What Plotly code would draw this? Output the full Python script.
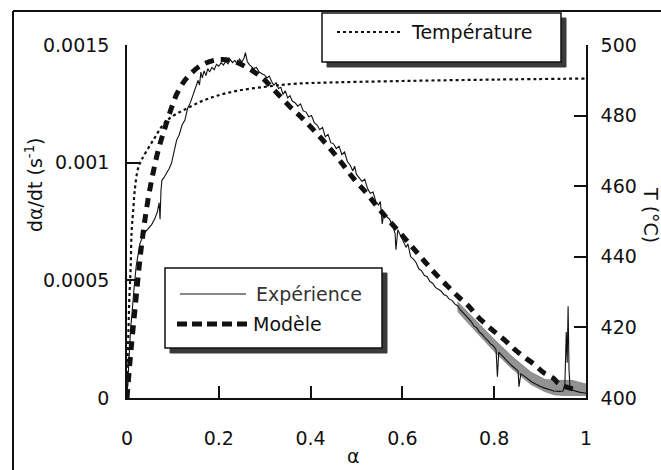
import plotly.graph_objects as go

# ---------------- data ----------------
# Experimental d(alpha)/dt (values in 1e-3 s^-1)
alpha_exp = [0.000, 0.002, 0.004, 0.006, 0.008, 0.010, 0.013, 0.016, 0.020, 0.024,
             0.028, 0.033, 0.038, 0.043, 0.048, 0.054, 0.060, 0.066, 0.070, 0.072,
             0.074, 0.076, 0.080, 0.086, 0.092, 0.097, 0.102, 0.108, 0.114, 0.120,
             0.126, 0.132, 0.138, 0.144, 0.150, 0.155, 0.158, 0.161, 0.164, 0.168,
             0.172, 0.176, 0.180, 0.185, 0.190, 0.195, 0.200, 0.205, 0.210, 0.215,
             0.220, 0.225, 0.230, 0.235, 0.240, 0.245, 0.250, 0.255, 0.258, 0.262,
             0.266, 0.270, 0.276, 0.282, 0.288, 0.294, 0.300, 0.305, 0.310, 0.315,
             0.320, 0.325, 0.330, 0.335, 0.340, 0.345, 0.350, 0.355, 0.360, 0.366,
             0.372, 0.378, 0.384, 0.390, 0.396, 0.402, 0.408, 0.414, 0.420, 0.426,
             0.432, 0.438, 0.444, 0.450, 0.456, 0.462, 0.468, 0.474, 0.480, 0.486,
             0.492, 0.496, 0.500, 0.506, 0.512, 0.518, 0.524, 0.530, 0.536, 0.542,
             0.548, 0.552, 0.556, 0.560, 0.566, 0.572, 0.578, 0.584, 0.586, 0.590,
             0.596, 0.602, 0.608, 0.612, 0.618, 0.624, 0.630, 0.636, 0.642, 0.648,
             0.654, 0.660, 0.666, 0.672, 0.678, 0.684, 0.690, 0.696, 0.702, 0.708,
             0.714, 0.720, 0.726, 0.732, 0.738, 0.744, 0.750, 0.756, 0.762, 0.768,
             0.774, 0.780, 0.786, 0.792, 0.798, 0.804, 0.807, 0.810, 0.816, 0.822,
             0.828, 0.834, 0.840, 0.846, 0.852, 0.854, 0.858, 0.864, 0.870, 0.876,
             0.882, 0.888, 0.894, 0.900, 0.910, 0.920, 0.930, 0.940, 0.950, 0.954,
             0.957, 0.959, 0.961, 0.963, 0.965, 0.968, 0.975, 0.985, 1.000]
dadt_exp = [0.000, 0.090, 0.170, 0.250, 0.300, 0.340, 0.420, 0.480, 0.560, 0.610,
            0.655, 0.680, 0.700, 0.712, 0.725, 0.738, 0.760, 0.790, 0.830, 0.760,
            0.880, 0.925, 0.935, 0.955, 0.975, 0.998, 1.040, 1.095, 1.120, 1.160,
            1.180, 1.230, 1.255, 1.290, 1.320, 1.350, 1.330, 1.385, 1.360, 1.390,
            1.370, 1.400, 1.385, 1.405, 1.395, 1.418, 1.410, 1.425, 1.415, 1.430,
            1.420, 1.438, 1.425, 1.435, 1.418, 1.440, 1.428, 1.445, 1.468, 1.430,
            1.418, 1.412, 1.400, 1.405, 1.385, 1.378, 1.372, 1.360, 1.368, 1.345,
            1.330, 1.340, 1.315, 1.320, 1.290, 1.305, 1.275, 1.285, 1.262, 1.255,
            1.240, 1.250, 1.220, 1.215, 1.195, 1.200, 1.170, 1.160, 1.140, 1.150,
            1.110, 1.120, 1.085, 1.080, 1.060, 1.070, 1.035, 1.045, 1.005, 0.990,
            0.965, 0.985, 0.950, 0.935, 0.920, 0.930, 0.890, 0.870, 0.875, 0.835,
            0.820, 0.835, 0.740, 0.790, 0.770, 0.760, 0.735, 0.700, 0.630, 0.715,
            0.690, 0.665, 0.640, 0.655, 0.600, 0.590, 0.575, 0.548, 0.540, 0.520,
            0.515, 0.495, 0.488, 0.470, 0.462, 0.455, 0.440, 0.435, 0.420, 0.415,
            0.400, 0.392, 0.375, 0.362, 0.350, 0.335, 0.325, 0.305, 0.298, 0.280,
            0.270, 0.255, 0.245, 0.230, 0.222, 0.205, 0.090, 0.195, 0.182, 0.170,
            0.160, 0.145, 0.135, 0.125, 0.115, 0.048, 0.102, 0.095, 0.085, 0.078,
            0.068, 0.062, 0.055, 0.050, 0.042, 0.035, 0.030, 0.028, 0.030, 0.060,
            0.280, 0.150, 0.390, 0.120, 0.050, 0.035, 0.030, 0.025, 0.020]

# Noise envelope of the experimental signal at the end of the run (1e-3 s^-1)
alpha_band = [0.72, 0.76, 0.80, 0.84, 0.88, 0.91, 0.93, 0.95, 0.97, 1.00]
band_high = [0.410, 0.330, 0.250, 0.175, 0.110, 0.080, 0.075, 0.075, 0.075, 0.060]
band_low = [0.365, 0.280, 0.195, 0.120, 0.055, 0.025, 0.012, 0.008, 0.008, 0.008]

# Model d(alpha)/dt (1e-3 s^-1)
alpha_mod = [0.000, 0.005, 0.010, 0.015, 0.020, 0.025, 0.030, 0.035, 0.040, 0.046,
             0.053, 0.060, 0.067, 0.075, 0.083, 0.092, 0.100, 0.108, 0.120, 0.130,
             0.159, 0.195, 0.228, 0.261, 0.293, 0.319, 0.355, 0.384, 0.413, 0.442,
             0.468, 0.493, 0.522, 0.548, 0.573, 0.602, 0.627, 0.649, 0.671, 0.698,
             0.722, 0.744, 0.763, 0.786, 0.807, 0.827, 0.847, 0.869, 0.889, 0.908,
             0.929, 0.940, 0.960, 0.980]
dadt_mod = [0.000, 0.120, 0.230, 0.330, 0.430, 0.530, 0.620, 0.700, 0.770, 0.845,
            0.920, 0.985, 1.045, 1.100, 1.150, 1.205, 1.250, 1.290, 1.333, 1.359,
            1.411, 1.437, 1.434, 1.405, 1.363, 1.312, 1.238, 1.185, 1.125, 1.061,
            0.998, 0.934, 0.870, 0.806, 0.749, 0.686, 0.629, 0.579, 0.530, 0.476,
            0.430, 0.391, 0.348, 0.306, 0.271, 0.239, 0.202, 0.169, 0.140, 0.107,
            0.084, 0.062, 0.045, 0.035]

# Temperature (deg C)
alpha_T = [0.000, 0.001, 0.003, 0.005, 0.008, 0.010, 0.014, 0.017, 0.024, 0.032,
           0.057, 0.086, 0.130, 0.181, 0.239, 0.304, 0.362, 0.420, 0.600, 0.800, 1.000]
temp_T = [400.0, 409.0, 418.0, 428.0, 437.0, 447.0, 454.0, 459.0, 465.0, 467.5,
          473.0, 478.5, 482.0, 485.0, 487.0, 488.2, 489.0, 489.3, 489.8, 490.2, 490.5]

y_ticks = [0, 0.0005, 0.001, 0.0015]
y_ticktext = ["0", "0.0005", "0.001", "0.0015"]
x_ticks = [0, 0.2, 0.4, 0.6, 0.8, 1]
x_ticktext = ["0", "0.2", "0.4", "0.6", "0.8", "1"]
t_ticks = [400, 420, 440, 460, 480, 500]

# ---------------- layout geometry (pixels) ----------------
W, H = 661, 470
L, R, T, B = 127, 586, 45, 398
PW, PH = R - L, B - T


def px(x):
    return (x - L) / PW


def py(y):
    return (B - y) / PH


FONT = "DejaVu Sans"
INK = "#111111"

fig = go.Figure()

# noise band
fig.add_trace(go.Scatter(x=alpha_band, y=[v * 1e-3 for v in band_low], mode="lines",
                         line=dict(color="rgba(0,0,0,0)", width=0), showlegend=False,
                         hoverinfo="skip"))
fig.add_trace(go.Scatter(x=alpha_band, y=[v * 1e-3 for v in band_high], mode="lines",
                         fill="tonexty", fillcolor="rgba(110,110,110,0.75)",
                         line=dict(color="rgba(80,80,80,0.8)", width=0.5),
                         showlegend=False, hoverinfo="skip"))

fig.add_trace(go.Scatter(x=alpha_exp, y=[v * 1e-3 for v in dadt_exp], mode="lines",
                         name="Expérience", line=dict(color=INK, width=1.1),
                         showlegend=False))
fig.add_trace(go.Scatter(x=alpha_mod, y=[v * 1e-3 for v in dadt_mod], mode="lines",
                         name="Modèle", line=dict(color=INK, width=5, dash="9px,7px"),
                         line_shape="spline", showlegend=False))
fig.add_trace(go.Scatter(x=alpha_T, y=temp_T, mode="lines", name="Température",
                         yaxis="y2", line=dict(color=INK, width=2.2, dash="3px,3px"),
                         line_shape="spline", showlegend=False))

shapes = []
# outer frame (left and top edges)
shapes.append(dict(type="line", xref="paper", yref="paper", x0=px(13), x1=px(13),
                   y0=py(11), y1=py(520), line=dict(color=INK, width=2)))
shapes.append(dict(type="line", xref="paper", yref="paper", x0=px(13), x1=px(700),
                   y0=py(11), y1=py(11), line=dict(color=INK, width=2)))


def box(x0, y0, x1, y1, sh=5):
    shapes.append(dict(type="rect", xref="paper", yref="paper", x0=px(x0 + sh), x1=px(x1 + sh),
                       y0=py(y0 + sh), y1=py(y1 + sh), fillcolor="#3a3a3a",
                       line=dict(color="#3a3a3a", width=1)))
    shapes.append(dict(type="rect", xref="paper", yref="paper", x0=px(x0), x1=px(x1),
                       y0=py(y0), y1=py(y1), fillcolor="white",
                       line=dict(color=INK, width=1.5)))


box(322, 13, 561, 62)
box(165, 268, 382, 348)

# legend samples
shapes.append(dict(type="line", xref="paper", yref="paper", x0=px(337), x1=px(403),
                   y0=py(32), y1=py(32), line=dict(color=INK, width=2.2, dash="3px,3px")))
shapes.append(dict(type="line", xref="paper", yref="paper", x0=px(180), x1=px(246),
                   y0=py(294), y1=py(294), line=dict(color=INK, width=1.1)))
shapes.append(dict(type="line", xref="paper", yref="paper", x0=px(177), x1=px(250),
                   y0=py(324), y1=py(324), line=dict(color=INK, width=5, dash="10px,5px")))

annotations = [
    dict(text="Température", x=px(409), y=py(32), xref="paper", yref="paper",
         xanchor="left", yanchor="middle", showarrow=False,
         font=dict(family=FONT, size=19, color=INK)),
    dict(text="Expérience", x=px(254), y=py(294), xref="paper", yref="paper",
         xanchor="left", yanchor="middle", showarrow=False,
         font=dict(family=FONT, size=19, color="#333333")),
    dict(text="Modèle", x=px(251), y=py(324), xref="paper", yref="paper",
         xanchor="left", yanchor="middle", showarrow=False,
         font=dict(family=FONT, size=19, color=INK)),
    dict(text="dα/dt (s<sup>-1</sup>)", x=px(34), y=py(185), xref="paper", yref="paper",
         xanchor="center", yanchor="middle", showarrow=False, textangle=-90,
         font=dict(family=FONT, size=19, color=INK)),
    dict(text="T (°C)", x=px(651), y=py(215), xref="paper", yref="paper",
         xanchor="center", yanchor="middle", showarrow=False, textangle=90,
         font=dict(family=FONT, size=19, color=INK)),
    dict(text="α", x=px(353), y=py(456), xref="paper", yref="paper",
         xanchor="center", yanchor="middle", showarrow=False,
         font=dict(family=FONT, size=19, color=INK)),
]

axis_common = dict(showgrid=False, zeroline=False, showline=True, linecolor=INK,
                   linewidth=1.5, ticks="inside", ticklen=12, tickwidth=1.5,
                   tickcolor=INK, tickfont=dict(family=FONT, size=19, color=INK))

fig.update_layout(
    width=W, height=H,
    margin=dict(l=L, r=W - R, t=T, b=H - B, autoexpand=False),
    paper_bgcolor="white", plot_bgcolor="white",
    showlegend=False,
    xaxis=dict(range=[0, 1], tickvals=x_ticks, ticktext=x_ticktext,
               ticklabelstandoff=22, **axis_common),
    yaxis=dict(range=[0, 0.0015], tickvals=y_ticks, ticktext=y_ticktext,
               ticklabelstandoff=12, **axis_common),
    yaxis2=dict(range=[400, 500], tickvals=t_ticks, overlaying="y", side="right",
                ticklabelstandoff=9, **axis_common),
    shapes=shapes,
    annotations=annotations,
)

fig.write_html("out.html", config={"displayModeBar": False},
               post_script="document.body.style.margin='0';")
